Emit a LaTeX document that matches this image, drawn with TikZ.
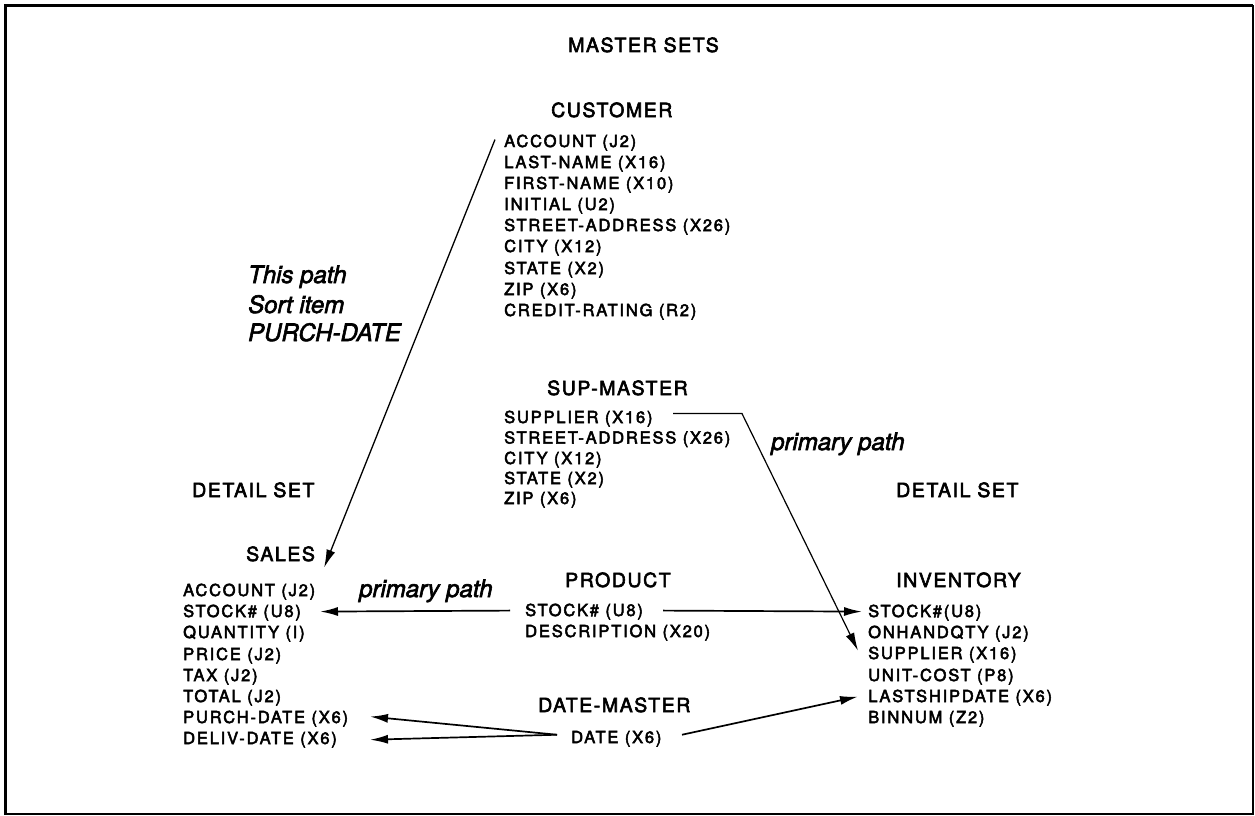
\documentclass[tikz,border=0pt]{standalone}
\usepackage{fontspec}
\setmainfont{TeX Gyre Heros}
\newfontfamily\fieldfont[LetterSpace=11,FakeBold=3]{TeX Gyre Heros}
\newfontfamily\headfont[LetterSpace=8,FakeBold=3]{TeX Gyre Heros}
\newfontfamily\notefont[FakeBold=2.5]{TeX Gyre Heros}
\usetikzlibrary{arrows.meta,calc}
\tikzset{
  fld/.style={anchor=base west,inner sep=0pt,font=\fieldfont\fontsize{16.5}{20}\selectfont},
  ttl/.style={anchor=base west,inner sep=0pt,font=\headfont\fontsize{19.5}{24}\selectfont},
  note/.style={anchor=base west,inner sep=0pt,font=\notefont\itshape\fontsize{24}{28}\selectfont},
  tip/.style={-{Latex[length=18pt,width=9pt]}},
  arr/.style={line width=1.7pt,tip},
  lnk/.style={line width=1.2pt}
}
\begin{document}
\begin{tikzpicture}[x=1pt,y=-1pt]
\useasboundingbox (0,0) rectangle (1255,816);
% frame
\draw[line width=1.5pt] (5,6) rectangle (1253,814);
\draw[line width=3pt] (5,814) -- (5,6) -- (1253,6);

% headings
\node[ttl] (hMaster) at (568,52) {MASTER SETS};
\node[ttl] (hDetL) at (192,497) {DETAIL SET};
\node[ttl] (hDetR) at (896,497) {DETAIL SET};

% CUSTOMER master set
\node[ttl] (custT) at (551,117) {CUSTOMER};
\node[fld] (cAcc)  at (504,147) {ACCOUNT (J2)};
\node[fld] (cLast) at (504,168) {LAST-NAME (X16)};
\node[fld] (cFirst) at (504,189) {FIRST-NAME (X10)};
\node[fld] (cInit) at (504,210) {INITIAL (U2)};
\node[fld] (cStreet) at (504,231) {STREET-ADDRESS (X26)};
\node[fld] (cCity) at (504,252) {CITY (X12)};
\node[fld] (cState) at (504,274) {STATE (X2)};
\node[fld] (cZip) at (504,295) {ZIP (X6)};
\node[fld] (cCredit) at (504,316) {CREDIT-RATING (R2)};

% SUP-MASTER master set
\node[ttl] (supT) at (547,395) {SUP-MASTER};
\node[fld] (mSup) at (504,423) {SUPPLIER (X16)};
\node[fld] (mStreet) at (504,443.5) {STREET-ADDRESS (X26)};
\node[fld] (mCity) at (504,464) {CITY (X12)};
\node[fld] (mState) at (504,484) {STATE (X2)};
\node[fld] (mZip) at (504,504) {ZIP (X6)};

% SALES detail set
\node[ttl] (salesT) at (246,561) {SALES};
\node[fld] (sAcc) at (183,596) {ACCOUNT (J2)};
\node[fld] (sStock) at (183,617) {STOCK\# (U8)};
\node[fld] (sQty) at (183,638) {QUANTITY (I)};
\node[fld] (sPrice) at (183,660) {PRICE (J2)};
\node[fld] (sTax) at (183,681) {TAX (J2)};
\node[fld] (sTotal) at (183,702) {TOTAL (J2)};
\node[fld] (sPurch) at (183,723) {PURCH-DATE (X6)};
\node[fld] (sDeliv) at (183,744) {DELIV-DATE (X6)};

% PRODUCT master set
\node[ttl] (prodT) at (565,587) {PRODUCT};
\node[fld] (pStock) at (525,616) {STOCK\# (U8)};
\node[fld] (pDesc) at (525,637) {DESCRIPTION (X20)};

% INVENTORY detail set
\node[ttl] (invT) at (896,587) {INVENTORY};
\node[fld] (iStock) at (868,617) {STOCK\#(U8)};
\node[fld] (iQty) at (868,638) {ONHANDQTY (J2)};
\node[fld] (iSup) at (868,659) {SUPPLIER (X16)};
\node[fld] (iCost) at (868,681) {UNIT-COST (P8)};
\node[fld] (iLast) at (868,702) {LASTSHIPDATE (X6)};
\node[fld] (iBin) at (868,723) {BINNUM (Z2)};

% DATE-MASTER master set
\node[ttl] (dateT) at (538,712) {DATE-MASTER};
\node[fld] (dDate) at (571,743) {DATE (X6)};

% path notes
\node[note] (nThis) at (248,283) {This path};
\node[note] (nSort) at (248,313) {Sort item};
\node[note] (nPurch) at (248,341) {PURCH-DATE};
\node[note] (nPrimL) at (359,597) {primary path};
\node[note] (nPrimR) at (771,450) {primary path};

% connectors
\draw[arr,line width=1.3pt] ($(cAcc.west)+(-9,-3)$) -- ($(salesT.south east)+(9,6)$);
\draw[arr] ($(pStock.west)+(-15,-1)$) -- ($(sStock.west)+(137,-1)$);
\draw[arr] ($(pStock.west)+(138,-1)$) -- ($(iStock.west)+(-6,-1)$);
\draw[lnk,tip] ($(mSup.west)+(169,-5)$) -- ++(69,0) -- ($(iSup.west)+(-10,-4)$);
\coordinate (dMeet) at ($(dDate.west)+(-14,-4)$);
\draw[arr] (dMeet) -- ($(sPurch.west)+(187,-2)$);
\draw[arr] (dMeet) -- ($(sDeliv.west)+(187,0)$);
\draw[arr] ($(dDate.west)+(111,-4)$) -- ($(iLast.west)+(-10,-1)$);
\end{tikzpicture}
\end{document}
